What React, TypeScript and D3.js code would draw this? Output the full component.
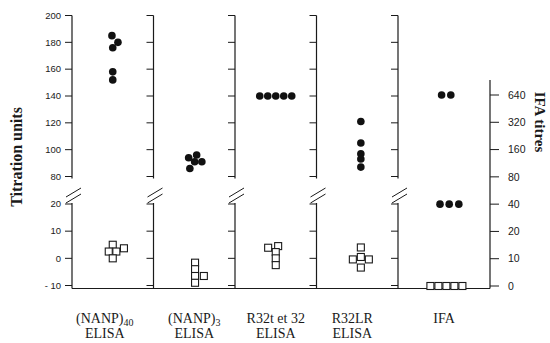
import React from "react";
import * as d3 from "d3";

const categories = ["NANP40", "NANP3", "R32", "R32LR", "IFA"];
const labelMain = ["(NANP)", "(NANP)", "R32t et 32", "R32LR", "IFA"];
const labelSub = ["40", "3", "", "", ""];
const labelSecond = ["ELISA", "ELISA", "ELISA", "ELISA", ""];

const upperTicks = [80, 100, 120, 140, 160, 180, 200];
const lowerTicks = [-10, 0, 10, 20];
const lowerTickLabels = ["- 10", "0", "10", "20"];
const titreTicks = ["0", "10", "20", "40", "80", "160", "320", "640"];

// Titration units, positive sera (filled) and negative sera (open), with horizontal jitter slots
const nanp40Pos = [185, 180, 176, 158, 152];
const nanp40PosJit = [-0.1, 0.65, 0, 0, 0];
const nanp40Neg = [5, 2.5, 2.5, 3.7, 0];
const nanp40NegJit = [0, -0.5, 0.45, 1.4, 0];

const nanp3Pos = [96, 94, 91, 91, 86];
const nanp3PosJit = [0.3, -0.7, 0.95, 0.05, -0.55];
const nanp3Neg = [-1.6, -4, -6.5, -9, -6.5];
const nanp3NegJit = [0.1, 0.1, 0.1, 0.1, 1.2];

const r32Pos = [140, 140, 140, 140, 140];
const r32PosJit = [-2, -1, 0, 1, 2];
const r32Neg = [3.9, 4.5, 2.3, 0, -2.5];
const r32NegJit = [-0.95, 0.3, 0, 0, 0];

const r32lrPos = [121, 105, 97, 93, 87];
const r32lrPosJit = [0.45, 0.45, 0.45, 0.45, 0.45];
const r32lrNeg = [4, 0.5, -0.4, -0.4, -3.4];
const r32lrNegJit = [0.45, 0.45, -0.55, 1.45, 0.45];

const ifaPos = ["640", "640", "40", "40", "40"];
const ifaPosJit = [-0.3, 0.85, -0.5, 0.65, 1.85];
const ifaNeg = ["0", "0", "0", "0", "0"];
const ifaNegJit = [-1.7, -0.7, 0.3, 1.3, 2.3];

const elisaPos = [nanp40Pos, nanp3Pos, r32Pos, r32lrPos];
const elisaPosJit = [nanp40PosJit, nanp3PosJit, r32PosJit, r32lrPosJit];
const elisaNeg = [nanp40Neg, nanp3Neg, r32Neg, r32lrNeg];
const elisaNegJit = [nanp40NegJit, nanp3NegJit, r32NegJit, r32lrNegJit];

// layout: horizontal nudge of each category caption relative to its panel centre
const captionShift = [-8, 0, 0, -5, 0];

export default function App() {
  const W = 550;
  const H = 343;
  const x = d3.scaleBand<string>().domain(categories).range([72, 479.5]).paddingInner(0).paddingOuter(0);
  const bw = x.bandwidth();
  const rightX = 490;
  const yUp = d3.scaleLinear().domain([80, 200]).range([176.5, 15.5]);
  const yLow = d3.scaleLinear().domain([-10, 20]).range([285.5, 204]);
  const yR = d3.scalePoint<string>().domain(titreTicks).range([286, 95]);
  const yVal = (v: number) => (v >= 60 ? yUp(v) : yLow(v));
  const baseY = 288.5;
  const slot = 8;
  const r = 3.8;
  const sq = 7;
  const ink = "#1a1a1a";
  const tickFont = "'Liberation Sans', Arial, sans-serif";
  const serif = "'Liberation Serif', 'Times New Roman', serif";

  const axes = categories.map((c, i) => {
    const ax = x(c)!;
    return (
      <g key={"ax" + i}>
        <line x1={ax} x2={ax} y1={yUp(200)} y2={yUp(80) + 2} stroke={ink} strokeWidth={1.2} />
        <line x1={ax} x2={ax} y1={yLow(20) - 1} y2={baseY} stroke={ink} strokeWidth={1.2} />
        <line x1={ax - 6} y1={203} x2={ax + 9} y2={194} stroke={ink} strokeWidth={1} />
        <line x1={ax - 6} y1={197} x2={ax + 9} y2={188} stroke={ink} strokeWidth={1} />
        {upperTicks.map((t) => (
          <line key={"u" + t} x1={ax - 7} x2={ax} y1={yUp(t)} y2={yUp(t)} stroke={ink} strokeWidth={1} />
        ))}
        {lowerTicks.map((t) => (
          <line key={"l" + t} x1={ax - 7} x2={ax} y1={yLow(t)} y2={yLow(t)} stroke={ink} strokeWidth={1} />
        ))}
      </g>
    );
  });

  const leftLabels = (
    <g fontFamily={tickFont} fontSize={9.5} fill={ink} textAnchor="end">
      {upperTicks.map((t) => (
        <text key={"ul" + t} x={61} y={yUp(t)} dy="0.35em">{t}</text>
      ))}
      {lowerTicks.map((t, i) => (
        <text key={"ll" + t} x={61} y={yLow(t)} dy="0.35em">{lowerTickLabels[i]}</text>
      ))}
    </g>
  );

  const rightAxis = (
    <g>
      <line x1={rightX} x2={rightX} y1={80} y2={baseY} stroke={ink} strokeWidth={1.2} />
      {titreTicks.map((t) => (
        <g key={"rt" + t}>
          <line x1={rightX} x2={rightX + 9} y1={yR(t)!} y2={yR(t)!} stroke={ink} strokeWidth={1} />
          <text x={508} y={yR(t)!} dy="0.35em" fontFamily={tickFont} fontSize={10.5} fill={ink}>{t}</text>
        </g>
      ))}
    </g>
  );

  const marks = elisaPos.map((vals, i) => {
    const cx = x(categories[i])! + bw / 2;
    return (
      <g key={"m" + i}>
        {elisaNeg[i].map((v, j) => (
          <rect key={"n" + j} x={cx + elisaNegJit[i][j] * slot - sq / 2} y={yVal(v) - sq / 2} width={sq} height={sq}
            fill="#fff" stroke={ink} strokeWidth={1.1} />
        ))}
        {vals.map((v, j) => (
          <circle key={"p" + j} cx={cx + elisaPosJit[i][j] * slot} cy={yVal(v)} r={r} fill="#111" />
        ))}
      </g>
    );
  });

  const ifaCx = (x("IFA")! + rightX) / 2;
  const ifaMarks = (
    <g>
      {ifaNeg.map((t, j) => (
        <rect key={"in" + j} x={ifaCx + ifaNegJit[j] * slot - sq / 2} y={yR(t)! - sq / 2} width={sq} height={sq}
          fill="#fff" stroke={ink} strokeWidth={1.1} />
      ))}
      {ifaPos.map((t, j) => (
        <circle key={"ip" + j} cx={ifaCx + ifaPosJit[j] * slot} cy={yR(t)!} r={r} fill="#111" />
      ))}
    </g>
  );

  const catLabels = categories.map((c, i) => {
    const cx = (i < 4 ? x(c)! + bw / 2 : ifaCx) + captionShift[i];
    return (
      <g key={"cl" + i} fontFamily={serif} fill={ink} textAnchor="middle">
        <text x={cx} y={323} fontSize={14}>
          {labelMain[i]}
          {labelSub[i] ? <tspan fontSize={10} dy={3}>{labelSub[i]}</tspan> : null}
        </text>
        {labelSecond[i] ? <text x={cx} y={338} fontSize={14}>{labelSecond[i]}</text> : null}
      </g>
    );
  });

  return (
    <svg width={W} height={H} style={{ position: "absolute", left: 0, top: 0, display: "block", background: "#fff" }}>
      <rect x={0} y={0} width={W} height={H} fill="#fff" />
      {axes}
      <line x1={x(categories[0])!} x2={rightX} y1={baseY} y2={baseY} stroke={ink} strokeWidth={1.2} />
      {leftLabels}
      {rightAxis}
      {marks}
      {ifaMarks}
      {catLabels}
      <text transform="translate(22,157) rotate(-90)" textAnchor="middle" fontFamily={serif} fontWeight="bold" fontSize={16} fill={ink}>
        Titration units
      </text>
      <text transform="translate(535,122) rotate(90)" textAnchor="middle" fontFamily={serif} fontWeight="bold" fontSize={15} fill={ink}>
        IFA titres
      </text>
    </svg>
  );
}
